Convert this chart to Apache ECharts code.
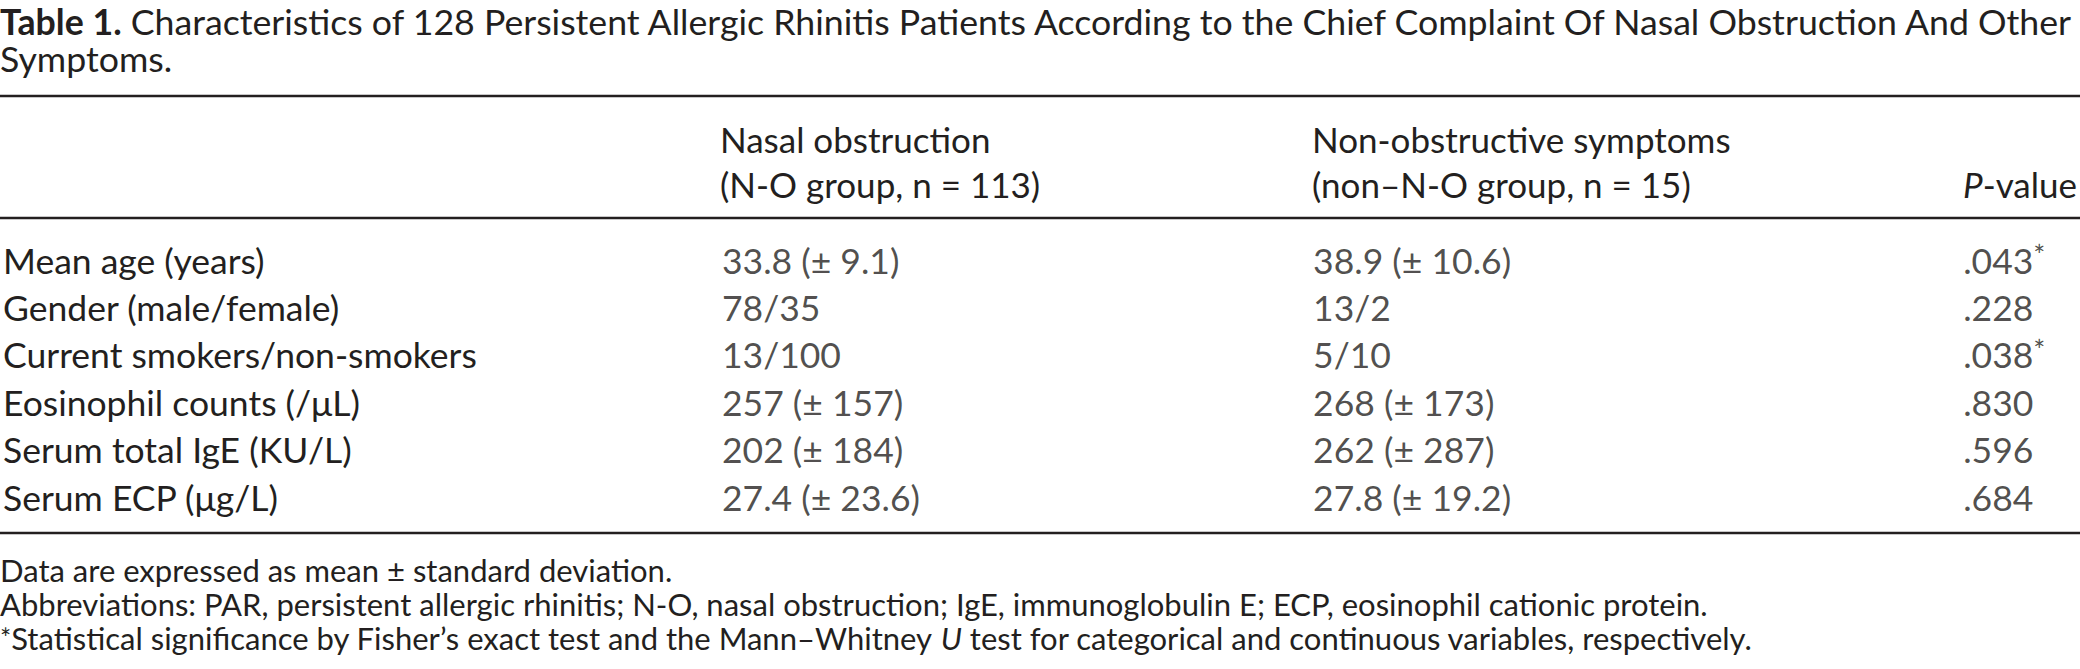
<!DOCTYPE html>
<html>
<head>
<meta charset="utf-8">
<script src="https://cdn.jsdelivr.net/npm/echarts@6/dist/echarts.min.js"></script>
<style>html,body{margin:0;padding:0;background:#fff;}#c{width:2080px;height:669px;}</style>
</head>
<body>
<div id="c"></div>
<script>
// ---- table content ----
const titleBold = 'Table 1.';
const titleText = 'Characteristics of 128 Persistent Allergic Rhinitis Patients According to the Chief Complaint Of Nasal Obstruction And Other';
const titleText2 = 'Symptoms.';
const headerNasal = ['Nasal obstruction', '(N-O group, n = 113)'];
const headerNonObs = ['Non-obstructive symptoms', '(non\u2013N-O group, n = 15)'];
const headerP = '{i|P}-value';
const rowLabels = ['Mean age (years)', 'Gender (male/female)', 'Current smokers/non-smokers', 'Eosinophil counts (/\u03bcL)', 'Serum total IgE (KU/L)', 'Serum ECP (\u03bcg/L)'];
const nasalValues = ['33.8 (\u00b1 9.1)', '78/35', '13/100', '257 (\u00b1 157)', '202 (\u00b1 184)', '27.4 (\u00b1 23.6)'];
const nonObsValues = ['38.9 (\u00b1 10.6)', '13/2', '5/10', '268 (\u00b1 173)', '262 (\u00b1 287)', '27.8 (\u00b1 19.2)'];
const pValues = ['.043*', '.228', '.038*', '.830', '.596', '.684'];
const footnotes = [
  'Data are expressed as mean \u00b1 standard deviation.',
  'Abbreviations: PAR, persistent allergic rhinitis; N-O, nasal obstruction; IgE, immunoglobulin E; ECP, eosinophil cationic protein.',
  '{s|*}Statistical significance by Fisher\u2019s exact test and the Mann\u2013Whitney {i|U} test for categorical and continuous variables, respectively.'
];

// ---- layout / style ----
const W = 2080, H = 669;
const FONT = 'Lato';
const COLOR = '#231f20';
const FS_TITLE = 35.7, FS = 35.5, FS_HEAD = 35, FS_FOOT = 31;
const COL_X = { nasal: 720, nonObs: 1312, p: 1963 };
const RULES_Y = [96, 218, 533];
const HEADER_Y = [139, 184];
const FOOT_Y = [570, 604, 638];
const ROW_TOP = 236.3, ROW_H = 47.4;

const chart = echarts.init(document.getElementById('c'), null, { renderer: 'svg', width: W, height: H });

function colSeries(name, x, values) {
  return {
    name: name,
    type: 'scatter',
    symbolSize: 0,
    silent: true,
    data: values.map((v, i) => [x, rowLabels[i], v]),
    label: {
      show: true,
      position: 'right',
      distance: 0,
      fontFamily: FONT,
      fontSize: FS,
      color: COLOR,
      formatter: p => String(p.value[2]).replace('*', '{s|*}'),
      rich: { s: { fontFamily: FONT, fontSize: FS * 0.8, color: COLOR, verticalAlign: 'top', padding: [0, 0, 10, 0] } }
    }
  };
}

const graphics = [];
RULES_Y.forEach(y => graphics.push({
  type: 'line', silent: true,
  shape: { x1: 0, y1: y, x2: W, y2: y },
  style: { stroke: COLOR, lineWidth: 2.5 }
}));
function txt(x, y, text, fs, rich) {
  return {
    type: 'text', silent: true, x: x, y: y,
    style: {
      text: text, fontFamily: FONT, fontSize: fs, fill: COLOR,
      align: 'left', verticalAlign: 'middle',
      rich: rich || {}
    }
  };
}
headerNasal.forEach((t, i) => graphics.push(txt(COL_X.nasal, HEADER_Y[i], t, FS_HEAD)));
headerNonObs.forEach((t, i) => graphics.push(txt(COL_X.nonObs, HEADER_Y[i], t, FS_HEAD)));
graphics.push(txt(COL_X.p, HEADER_Y[1], headerP, FS_HEAD, { i: { fontFamily: FONT, fontSize: FS_HEAD, fill: COLOR, fontStyle: 'italic' } }));
footnotes.forEach((t, i) => graphics.push(txt(0, FOOT_Y[i], t, FS_FOOT, {
  i: { fontFamily: FONT, fontSize: FS_FOOT, fill: COLOR, fontStyle: 'italic' },
  s: { fontFamily: FONT, fontSize: FS_FOOT * 0.85, fill: COLOR }
})));

chart.setOption({
  animation: false,
  backgroundColor: '#fff',
  title: {
    left: 0, top: 3, padding: 0,
    text: '{b|' + titleBold + '} ' + titleText + '\n' + titleText2,
    textStyle: {
      fontFamily: FONT, fontSize: FS_TITLE, color: COLOR, fontWeight: 'normal', lineHeight: 37,
      rich: { b: { fontFamily: FONT, fontSize: FS_TITLE, color: COLOR, fontWeight: 'bold', lineHeight: 37 } }
    }
  },
  grid: { left: 0, right: 0, top: ROW_TOP, height: ROW_H * rowLabels.length, containLabel: false },
  xAxis: { type: 'value', min: 0, max: W, show: false },
  yAxis: {
    type: 'category', data: rowLabels, inverse: true,
    axisLine: { show: false }, axisTick: { show: false }, splitLine: { show: false },
    axisLabel: { inside: true, margin: 0, align: 'left', fontFamily: FONT, fontSize: FS, color: COLOR }
  },
  series: [
    colSeries('nasal', COL_X.nasal, nasalValues),
    colSeries('nonObs', COL_X.nonObs, nonObsValues),
    colSeries('p', COL_X.p, pValues)
  ],
  graphic: graphics
});
</script>
</body>
</html>
